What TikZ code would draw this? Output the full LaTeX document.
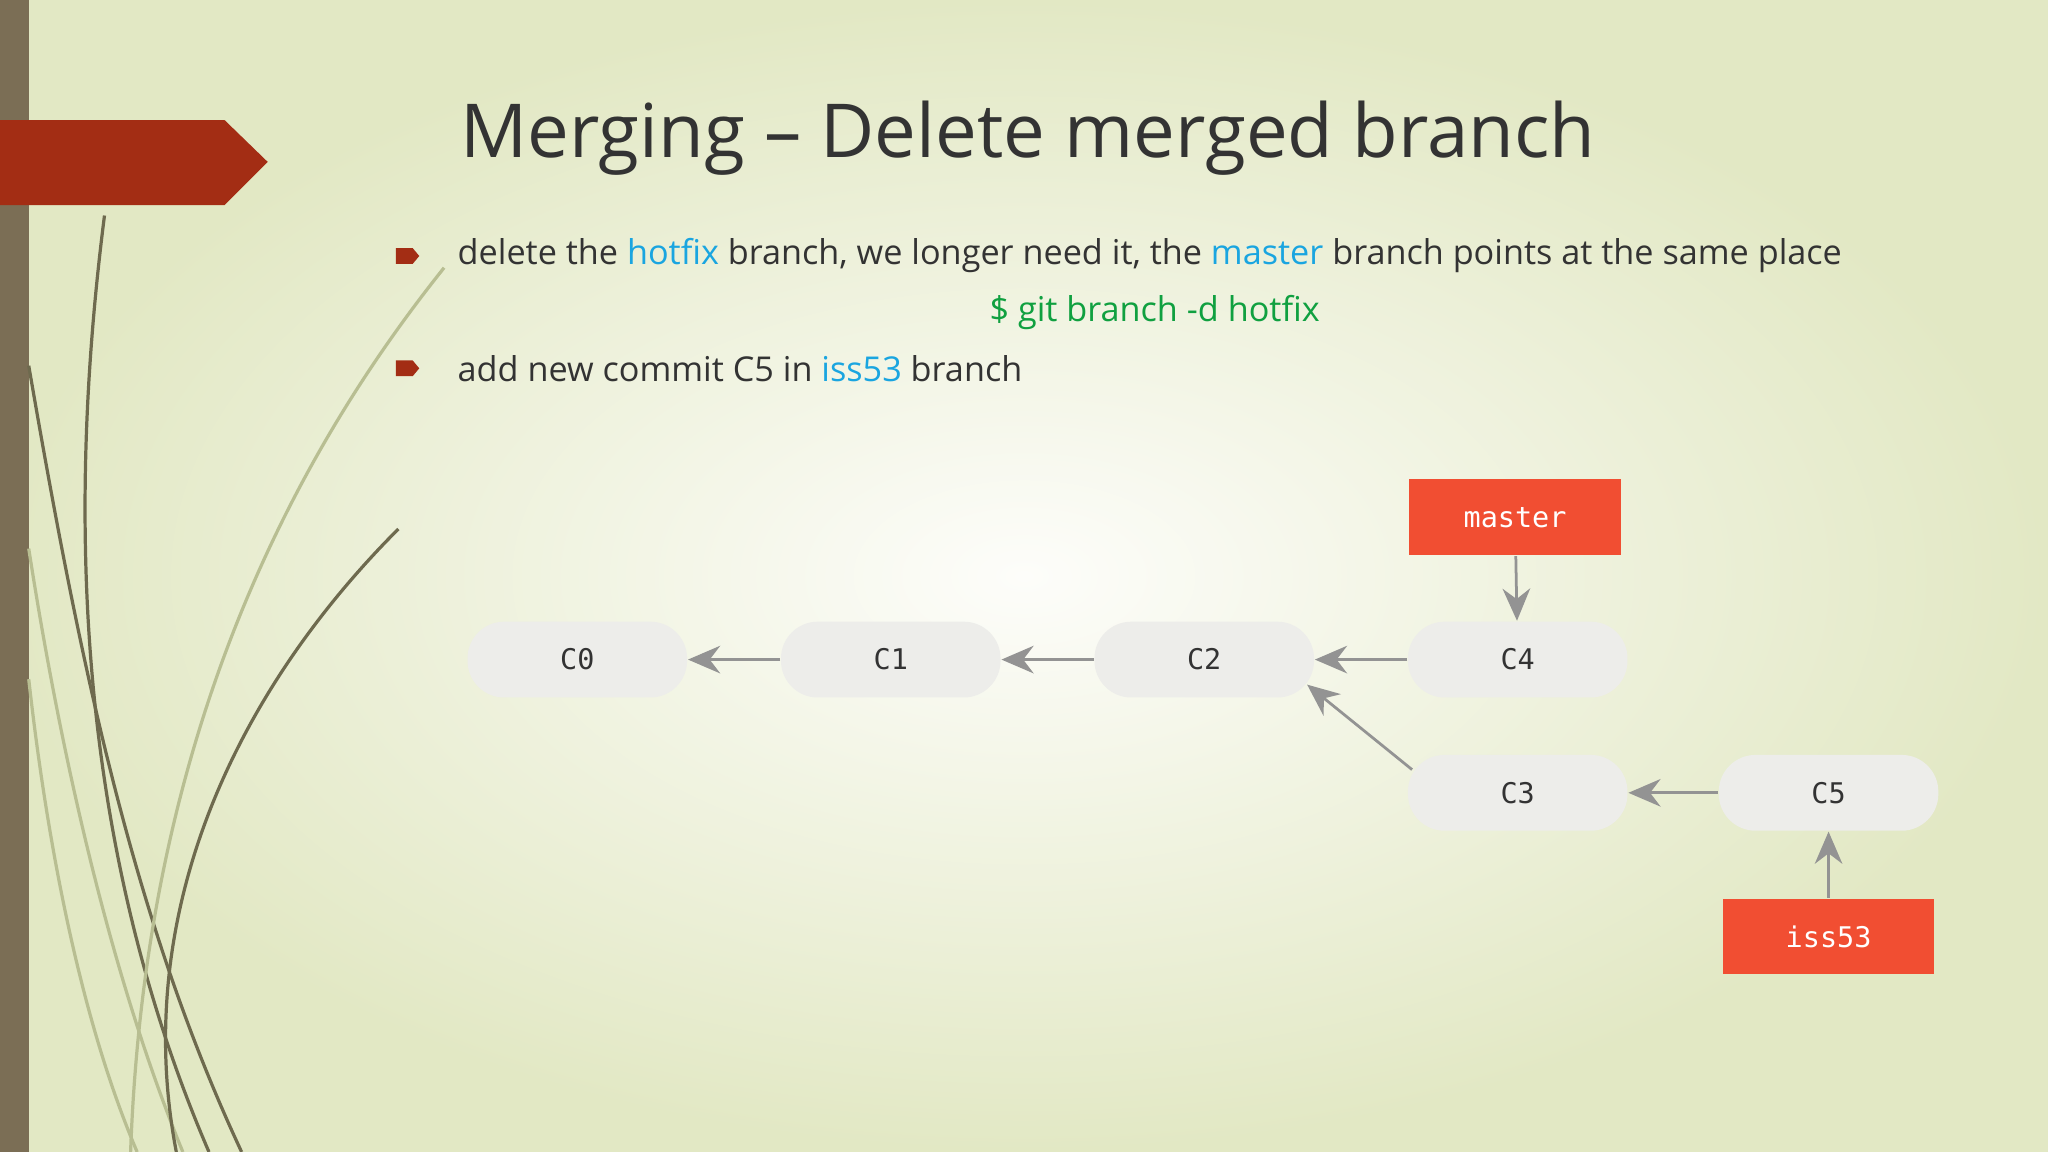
\documentclass[tikz,border=0pt]{standalone}
\usepackage{fontspec}
\setmainfont{Open Sans}
\setmonofont{DejaVu Sans Mono}
\usetikzlibrary{arrows.meta}
\definecolor{bgA}{HTML}{E2E8C4}
\definecolor{bgB}{HTML}{FDFDFA}
\definecolor{barc}{HTML}{7B6E55}
\definecolor{redarr}{HTML}{A32D14}
\definecolor{gitred}{HTML}{F14E32}
\definecolor{pill}{HTML}{EDEDEA}
\definecolor{linkb}{HTML}{1AA5E0}
\definecolor{cmdg}{HTML}{10A040}
\definecolor{txt}{HTML}{333333}
\definecolor{olive}{HTML}{6E6A4E}
\definecolor{lolive}{HTML}{B8BE92}
\tikzset{
 commit/.style={fill=pill,rounded corners=8pt,minimum width=1.68cm,minimum height=0.58cm,font=\ttfamily\fontsize{6.2}{8}\selectfont,text=txt},
 branchbox/.style={fill=gitred,minimum width=1.62cm,minimum height=0.58cm,font=\ttfamily\fontsize{6.2}{8}\selectfont,text=white},
 conn/.style={draw=gray!85,line width=0.6pt,-{Stealth[length=7pt,width=6pt]}},
 deco/.style={line width=0.7pt}
}
\begin{document}
\begin{tikzpicture}[x=0.01cm,y=-0.01cm]
\useasboundingbox (0,0) rectangle (1568,882);
\shade[inner color=bgB,outer color=bgA] (0,0) rectangle (1568,882);
\fill[barc] (0,0) rectangle (22,882);
% decorative curves
\draw[deco,olive] (80,165) .. controls (50,400) and (60,650) .. (160,882);
\draw[deco,olive] (22,280) .. controls (60,500) and (100,700) .. (185,882);
\draw[deco,lolive] (22,420) .. controls (50,600) and (90,760) .. (140,882);
\draw[deco,olive] (305,405) .. controls (180,530) and (100,700) .. (135,882);
\draw[deco,lolive] (340,205) .. controls (200,380) and (110,600) .. (100,882);
\draw[deco,lolive] (22,520) .. controls (40,680) and (70,800) .. (105,882);
\fill[redarr] (0,92) -- (172,92) -- (205,124) -- (172,157) -- (0,157) -- cycle;
% title
\node[anchor=west,text=txt,font=\fontsize{16.2}{20}\selectfont] (title) at (340,106) {Merging – Delete merged branch};
\fill[redarr] (303,190) -- (316,190) -- (321,196) -- (316,202) -- (303,202) -- cycle;
\node[anchor=west,text=txt,font=\fontsize{7.45}{9}\selectfont] (b1) at (338,196) {delete the \textcolor{linkb}{hotfix} branch, we longer need it, the \textcolor{linkb}{master} branch points at the same place};
\node[text=cmdg,font=\fontsize{7.45}{9}\selectfont] (cmd) at (884,239) {\$ git branch -d hotfix};
\fill[redarr] (303,276) -- (316,276) -- (321,282) -- (316,288) -- (303,288) -- cycle;
\node[anchor=west,text=txt,font=\fontsize{7.45}{9}\selectfont] (b2) at (338,282) {add new commit C5 in \textcolor{linkb}{iss53} branch};
% graph
\node[commit] (c0) at (442,505) {C0};
\node[commit] (c1) at (682,505) {C1};
\node[commit] (c2) at (922,505) {C2};
\node[commit] (c4) at (1162,505) {C4};
\node[commit] (c3) at (1162,607) {C3};
\node[commit] (c5) at (1400,607) {C5};
\node[branchbox] (master) at (1160,396) {master};
\node[branchbox] (iss) at (1400,717) {iss53};
\draw[conn] (c1) -- (c0);
\draw[conn] (c2) -- (c1);
\draw[conn] (c4) -- (c2);
\draw[conn] ([xshift=1.1pt,yshift=-3.4pt]c3.north west) -- ([xshift=-1.7pt,yshift=3pt]c2.south east);
\draw[conn] (c5) -- (c3);
\draw[conn] (master) -- (c4);
\draw[conn] (iss) -- (c5);
\end{tikzpicture}
\end{document}
